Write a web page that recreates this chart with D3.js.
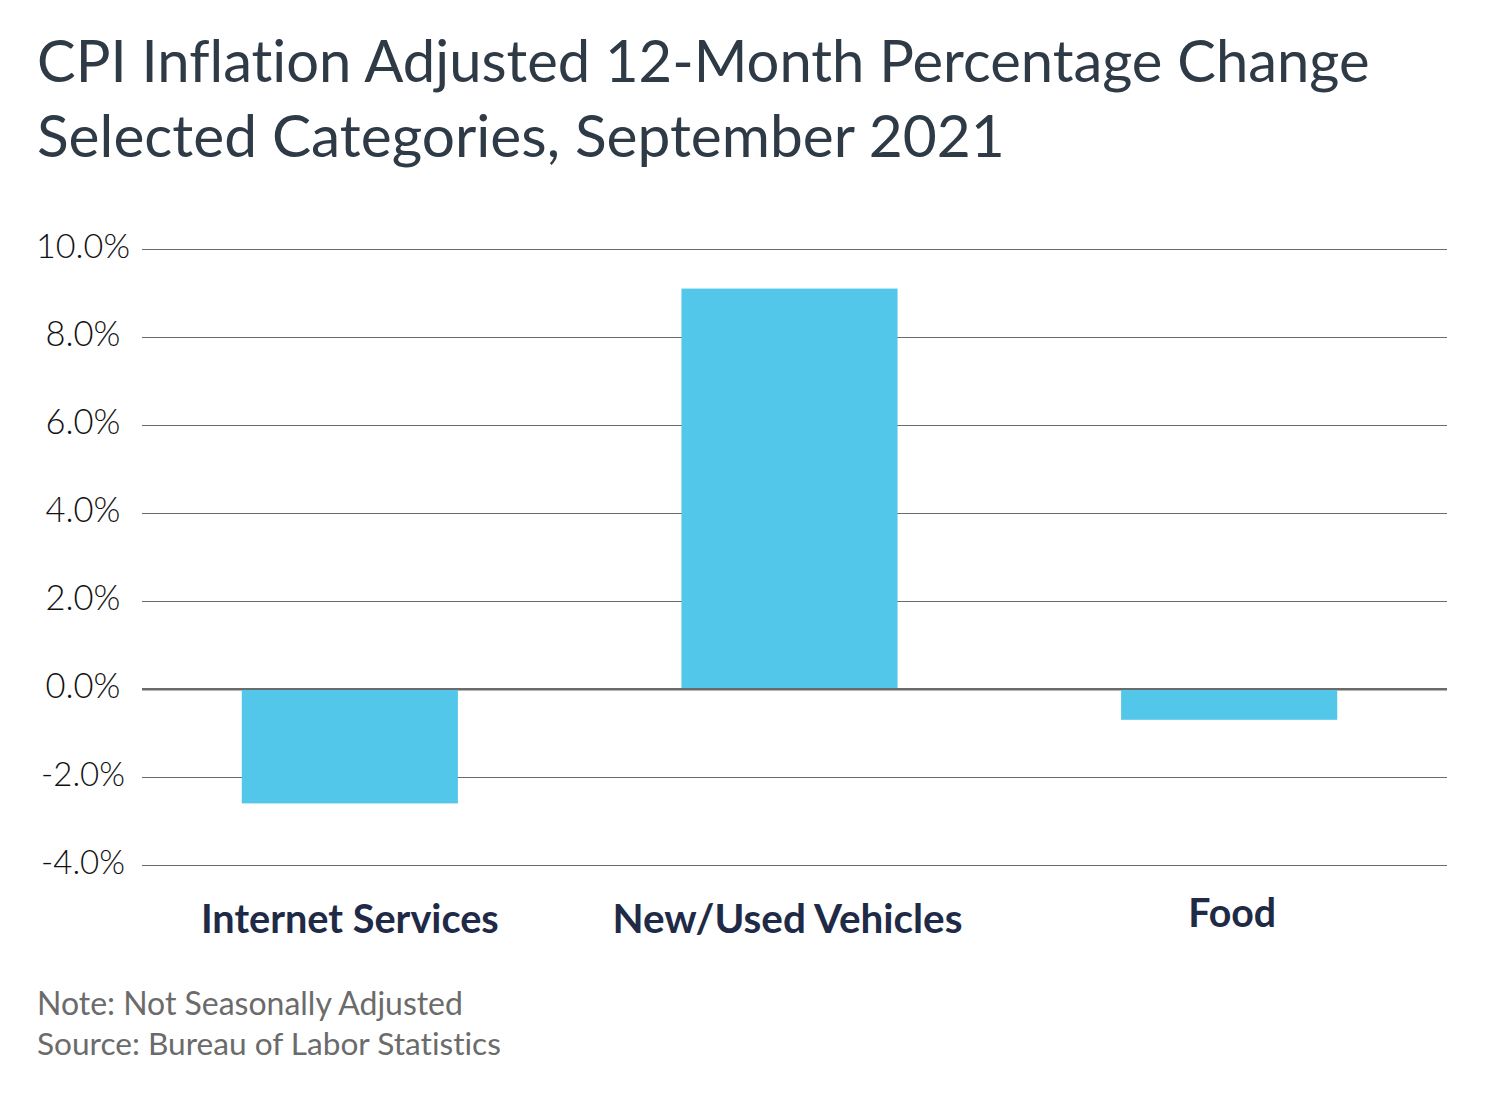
<!DOCTYPE html>
<html>
<head>
<meta charset="utf-8">
<script src="https://cdn.jsdelivr.net/npm/d3@7"></script>
<style>
  body { margin: 0; background: #fff; }
  svg { display: block; }
  text { font-variant-ligatures: none; font-feature-settings: "liga" 0, "clig" 0; }
</style>
</head>
<body>
<svg id="chart" width="1485" height="1097"></svg>
<script>

// data
var categories = ['Internet Services', 'New/Used Vehicles', 'Food'];
var values = [-2.6, 9.1, -0.7];
var tickValues = [-4, -2, 0, 2, 4, 6, 8, 10];
var titleLines = ['CPI Inflation Adjusted 12-Month Percentage Change',
                  'Selected Categories, September 2021'];
var noteLines = ['Note: Not Seasonally Adjusted',
                 'Source: Bureau of Labor Statistics'];

var svg = d3.select('#chart');

var FONT = 'Lato, "Open Sans", sans-serif';

// plain hyphen for negatives, like the original
var fmt = d3.formatLocale({
  decimal: '.', thousands: ',', grouping: [3], currency: ['$', ''], minus: '-'
}).format('.1f');

// scale text so it spans a given width (reference font is not installed)
function fitWidth(sel, target) {
  sel.each(function() {
    var size = parseFloat(d3.select(this).attr('font-size'));
    var len = this.getComputedTextLength();
    if (len > 0) d3.select(this).attr('font-size', size * target / len);
  });
}

var plot = { left: 142, right: 1447 };

var y = d3.scaleLinear()
  .domain([-4, 10])
  .range([865, 249]);

var x = d3.scaleBand()
  .domain(categories)
  .range([130, 1449])
  .paddingInner(0.5085)
  .paddingOuter(0.25425);

/* ======================================
 * Title
 */
var titleWidths = [1333, 968];
svg.selectAll('text.title')
  .data(titleLines)
  .enter().append('text')
  .attr('class', 'title')
  .attr('x', 37)
  .attr('y', function(d, i) { return 82 + i * 75; })
  .attr('font-family', FONT)
  .attr('font-size', 60)
  .attr('fill', '#2e3a46')
  .text(function(d) { return d; })
  .each(function(d, i) { fitWidth(d3.select(this), titleWidths[i]); });

/* ======================================
 * Gridlines + y axis labels
 */
var yAxis = d3.axisLeft(y)
  .tickValues(tickValues)
  .tickSize(plot.right - plot.left)
  .tickFormat(function(d) { return fmt(d) + '%'; });

var gy = svg.append('g')
  .attr('transform', 'translate(' + plot.right + ',0)')
  .call(yAxis);

gy.select('.domain').remove();
gy.selectAll('.tick line')
  .attr('stroke', '#6b6b6b')
  .attr('stroke-width', function(d) { return d === 0 ? 2 : 1; });

gy.selectAll('.tick text')
  .attr('x', 83 - plot.right)
  .attr('dy', 8)
  .attr('text-anchor', 'middle')
  .attr('font-family', FONT)
  .attr('font-weight', 300)
  .attr('font-size', 36)
  .attr('fill', '#111');

gy.selectAll('.tick text').each(function(d) {
  fitWidth(d3.select(this), d === 10 ? 94 : (d < 0 ? 84 : 75));
});

/* ======================================
 * Bars
 */
svg.append('g')
  .selectAll('rect')
  .data(values)
  .enter().append('rect')
  .attr('x', function(d, i) { return x(categories[i]); })
  .attr('width', x.bandwidth())
  .attr('y', function(d) { return y(Math.max(0, d)); })
  .attr('height', function(d) { return Math.abs(y(d) - y(0)); })
  .attr('fill', '#52c7ea');

// redraw the zero line on top of bars
svg.append('line')
  .attr('x1', plot.left)
  .attr('x2', plot.right)
  .attr('y1', y(0))
  .attr('y2', y(0))
  .attr('stroke', '#6b6b6b')
  .attr('stroke-width', 2);

/* ======================================
 * Category labels
 */
var labelWidths = [298, 350, 88];
var labelShift = [0, -2, 3];
var labelBase = [933, 933, 927];
svg.selectAll('text.cat')
  .data(categories)
  .enter().append('text')
  .attr('class', 'cat')
  .attr('x', function(d, i) { return x(d) + x.bandwidth() / 2 + labelShift[i]; })
  .attr('y', function(d, i) { return labelBase[i]; })
  .attr('text-anchor', 'middle')
  .attr('font-family', FONT)
  .attr('font-weight', 700)
  .attr('font-size', 38)
  .attr('fill', '#1e2a46')
  .text(function(d) { return d; })
  .each(function(d, i) { fitWidth(d3.select(this), labelWidths[i]); });

/* ======================================
 * Notes
 */
var noteWidths = [426, 464];
svg.selectAll('text.note')
  .data(noteLines)
  .enter().append('text')
  .attr('class', 'note')
  .attr('x', 37)
  .attr('y', function(d, i) { return 1015 + i * 40; })
  .attr('font-family', FONT)
  .attr('font-size', 28)
  .attr('fill', '#6b6b6b')
  .text(function(d) { return d; })
  .each(function(d, i) { fitWidth(d3.select(this), noteWidths[i]); });

</script>
</body>
</html>
